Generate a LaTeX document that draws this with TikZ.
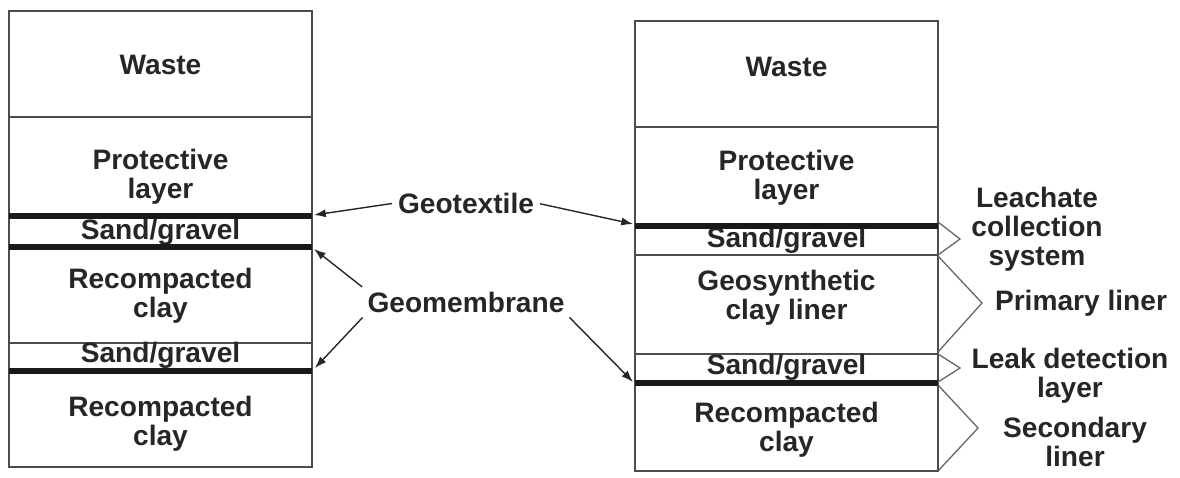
\documentclass[tikz,border=0pt]{standalone}
\usepackage{fontspec}
\setmainfont{Liberation Sans}
\usetikzlibrary{arrows.meta}
\tikzset{
    layer/.style={draw=black!70, line width=1.2pt},
    sheet/.style={draw=black!90, line width=5.8pt},
    lbl/.style={font=\fontsize{24}{24.8}\selectfont\bfseries, text=black!85, align=center, inner sep=2pt},
    pointer/.style={-{Latex[length=10pt,width=7pt]}, line width=1.2pt, black!85, shorten <=3pt},
    bracket/.style={draw=black!60, line width=1.1pt}
}

\begin{document}
\begin{tikzpicture}[x=0.03cm, y=-0.03cm]
    \useasboundingbox (0,0) rectangle (1180,477);
    % single liner
    \begin{scope}[shift={(9, 0)}]
        \draw[layer] (0, 11) -- (303, 11) -- (303, 467) -- (0, 467) -- cycle;
        \draw[layer]
        (0, 117) -- (303, 117)
        (0, 343) -- (303, 343);
        \node[lbl] (lwaste) at (151.5, 65) {Waste};
        \node[lbl] (lprot) at (151.5, 177) {Protective\\layer};
        \node[lbl] (lsand1) at (151.5, 232) {Sand/gravel};
        \node[lbl] (lclay1) at (151.5, 296) {Recompacted\\clay};
        \node[lbl] (lsand2) at (151.5, 355) {Sand/gravel};
        \node[lbl] (lclay2) at (151.5, 424) {Recompacted\\clay};
        \draw[sheet]
        (0, 216) -- (303, 216)
        (0, 247) -- (303, 247)
        (0, 371) -- (303, 371);
        \coordinate (lgtx) at (305, 215);
        \coordinate (lgmA) at (305, 249);
        \coordinate (lgmB) at (306, 368);
    \end{scope}
    % double liner
    \begin{scope}[shift={(635, 0)}]
        \draw[layer] (0, 21) -- (303, 21) -- (303, 471) -- (0, 471) -- cycle;
        \draw[layer]
        (0, 127) -- (303, 127)
        (0, 255) -- (303, 255)
        (0, 354) -- (303, 354);
        \node[lbl] (rwaste) at (151.5, 67) {Waste};
        \node[lbl] (rprot) at (151.5, 178) {Protective\\layer};
        \node[lbl] (rsand1) at (151.5, 240) {Sand/gravel};
        \node[lbl] (rgcl) at (151.5, 298) {Geosynthetic\\clay liner};
        \node[lbl] (rsand2) at (151.5, 367) {Sand/gravel};
        \node[lbl] (rclay) at (151.5, 430) {Recompacted\\clay};
        \draw[sheet]
        (0, 226) -- (303, 226)
        (0, 383) -- (303, 383);
        \coordinate (rgtx) at (-2, 224);
        \coordinate (rgm) at (-2, 382);
        % brackets
        \draw[bracket] (303, 222) -- (325, 239) -- (303, 255);
        \draw[bracket] (303, 256) -- (347, 303) -- (303, 352);
        \draw[bracket] (303, 354) -- (325, 368) -- (303, 382);
        \draw[bracket] (303, 385) -- (343, 428) -- (303, 471);
    \end{scope}
    % system labels
    \node[lbl] (leach) at (1037, 229) {Leachate\\collection\\system};
    \node[lbl] (prim) at (1081, 303) {Primary liner};
    \node[lbl] (leak) at (1070, 376) {Leak detection\\layer};
    \node[lbl] (secd) at (1075, 442) {Secondary\\liner};
    % material labels
    \node[lbl] (gtx) at (466, 203) {Geotextile};
    \node[lbl] (gm) at (466, 302) {Geomembrane};
    \draw[pointer] (gtx.west) -- (lgtx);
    \draw[pointer] (gtx.east) -- (rgtx);
    \draw[pointer] (gm.north west) -- (lgmA);
    \draw[pointer] (gm.south west) -- (lgmB);
    \draw[pointer] (gm.south east) -- (rgm);
\end{tikzpicture}
\end{document}
